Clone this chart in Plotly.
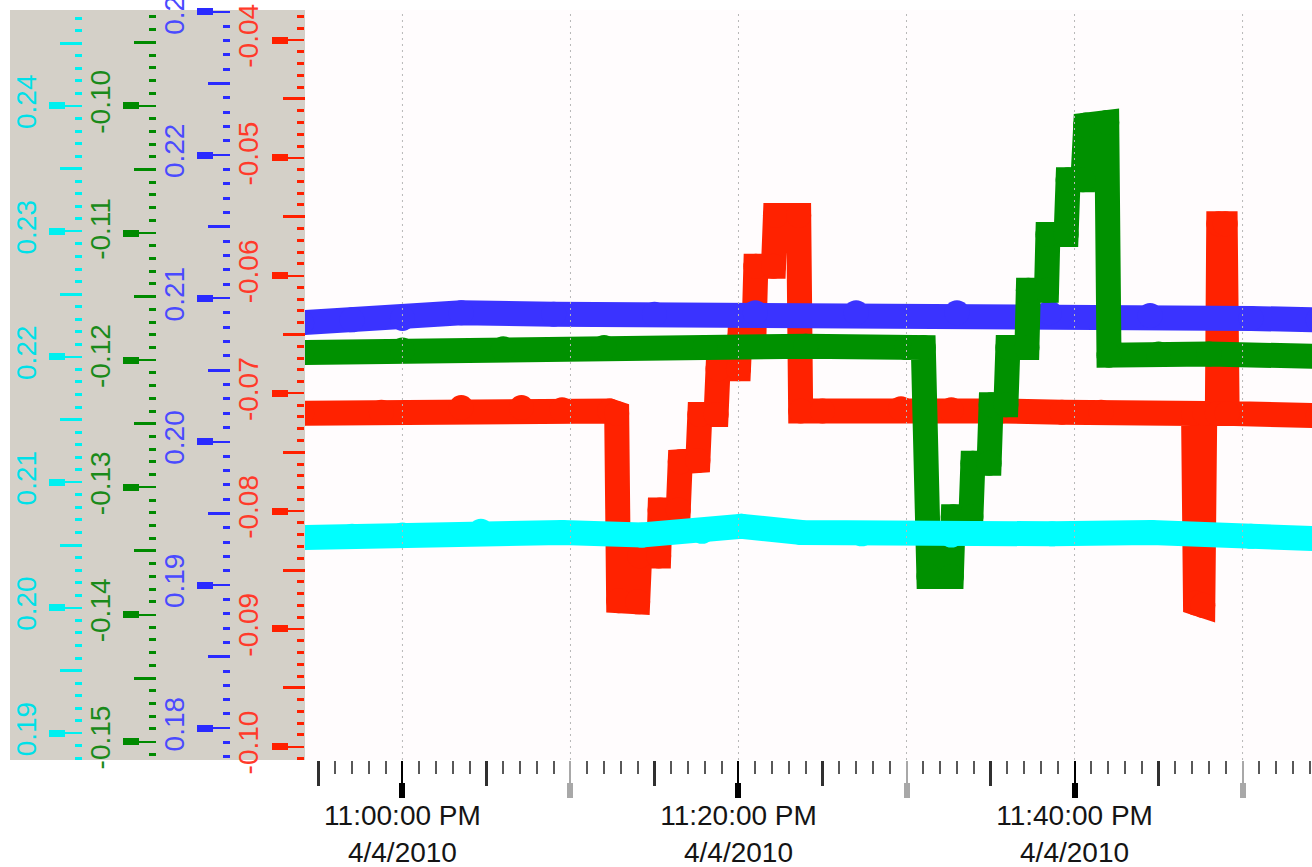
import pandas as pd
import plotly.graph_objects as go

DAY = "2010-04-04 "

# ---- measured series (clock time, value) ----
red_times = ["22:54:00", "22:58:45", "23:03:30", "23:07:05", "23:09:30", "23:12:20",
             "23:12:45", "23:12:52", "23:14:00", "23:14:07", "23:15:15", "23:15:20",
             "23:16:25", "23:16:32", "23:17:35", "23:17:42", "23:18:40", "23:18:47",
             "23:20:00", "23:20:05", "23:20:55", "23:21:02", "23:22:05", "23:22:12",
             "23:23:35", "23:23:42", "23:25:00", "23:29:40", "23:32:40", "23:35:40",
             "23:39:15", "23:41:35", "23:47:05", "23:47:12", "23:47:38", "23:47:45",
             "23:48:30", "23:48:35", "23:48:58", "23:49:05", "23:54:30"]
red_values = [-0.0717, -0.0716, -0.0712, -0.0712, -0.0714, -0.0715,
              -0.0717, -0.0876, -0.0877, -0.0838, -0.0838, -0.0799,
              -0.0799, -0.0758, -0.0757, -0.0718, -0.0718, -0.0679,
              -0.0679, -0.0652, -0.0652, -0.0592, -0.0592, -0.0549,
              -0.0549, -0.0715, -0.0715, -0.0713, -0.0714, -0.0715,
              -0.0716, -0.0716, -0.0717, -0.0878, -0.0880, -0.0717,
              -0.0717, -0.0556, -0.0556, -0.0717, -0.0719]

blue_times = ["22:54:00", "22:57:00", "23:00:00", "23:03:30", "23:09:00", "23:15:00",
              "23:21:00", "23:27:00", "23:33:00", "23:38:30", "23:44:30", "23:50:30",
              "23:54:30"]
blue_values = [0.2083, 0.2085, 0.2086, 0.2090, 0.2089, 0.2089,
               0.2090, 0.2090, 0.2090, 0.2090, 0.2088, 0.2086,
               0.2085]

green_times = ["22:54:00", "23:00:00", "23:06:00", "23:12:00", "23:18:00", "23:24:00",
               "23:30:00", "23:31:00", "23:31:20", "23:32:40", "23:32:47", "23:33:50",
               "23:33:57", "23:34:55", "23:35:02", "23:35:55", "23:36:02", "23:37:10",
               "23:37:15", "23:38:20", "23:38:25", "23:39:30", "23:39:37", "23:40:30",
               "23:40:40", "23:41:55", "23:42:03", "23:45:00", "23:48:00", "23:54:30"]
green_values = [-0.1194, -0.1192, -0.1191, -0.1190, -0.1190, -0.1189,
                -0.1190, -0.1190, -0.1370, -0.1370, -0.1323, -0.1323,
                -0.1281, -0.1281, -0.1235, -0.1235, -0.1190, -0.1190,
                -0.1145, -0.1145, -0.1101, -0.1101, -0.1058, -0.1058,
                -0.1015, -0.1013, -0.1196, -0.1195, -0.1195, -0.1197]

cyan_times = ["22:54:00", "22:57:00", "23:00:00", "23:04:40", "23:09:30", "23:14:15",
              "23:17:50", "23:20:10", "23:23:45", "23:27:20", "23:32:40", "23:38:40",
              "23:44:35", "23:50:30", "23:54:30"]
cyan_values = [0.2056, 0.2057, 0.2058, 0.2061, 0.2060, 0.2058,
               0.2061, 0.2065, 0.2060, 0.2059, 0.2058, 0.2059,
               0.2060, 0.2057, 0.2055]

# ---- axis ticks and labels ----
red_ticks = [-0.10, -0.09, -0.08, -0.07, -0.06, -0.05, -0.04]
blue_ticks = [0.18, 0.19, 0.20, 0.21, 0.22, 0.23]
green_ticks = [-0.15, -0.14, -0.13, -0.12, -0.11, -0.10]
cyan_ticks = [0.19, 0.20, 0.21, 0.22, 0.23, 0.24]

red_range = [-0.10113, -0.03745]
blue_range = [0.17779, 0.23012]
green_range = [-0.15144, -0.09245]
cyan_range = [0.18787, 0.24765]

time_labels = ["11:00:00 PM", "11:20:00 PM", "11:40:00 PM"]
date_labels = ["4/4/2010", "4/4/2010", "4/4/2010"]
x_range = ["22:54:12", "23:54:08"]

# ---- page geometry (pixels) ----
W, H = 1312, 867
PLOT_LEFT, PLOT_TOP, PLOT_BOTTOM = 305, 10, 760
PANEL_LEFT = 10
FONT = "Liberation Sans, Arial, sans-serif"
LABEL_SIZE = 28
LINE_W = 25


def fx(px):
    return px / W


def fy(py):
    return 1 - py / H


def ts(t):
    return DAY + t


x_dom = [fx(PLOT_LEFT), 1.0]
y_dom = [fy(PLOT_BOTTOM), fy(PLOT_TOP)]
xr = [ts(t) for t in x_range]

fig = go.Figure()

# data traces: red at the bottom, cyan on top
series = [
    ("red", red_times, red_values, "#ff2200", "y"),
    ("blue", blue_times, blue_values, "#3a33ff", "y4"),
    ("green", green_times, green_values, "#009100", "y7"),
    ("cyan", cyan_times, cyan_values, "#00ffff", "y10"),
]
for name, tt, vv, col, yax in series:
    fig.add_trace(go.Scatter(
        x=[ts(t) for t in tt], y=vv, name=name, mode="lines+markers",
        line=dict(color=col, width=LINE_W),
        marker=dict(color=col, size=LINE_W, line=dict(width=0)),
        xaxis="x", yaxis=yax, showlegend=False, hoverinfo="skip",
    ))

# value axes: (label axis id, thick axis id, mid axis id, range, root px, ticks, tick color, text color)
value_axes = [
    ("", "2", "3", red_range, 305, red_ticks, "#ff2000", "#ff3a2a"),
    ("4", "5", "6", blue_range, 230, blue_ticks, "#2a2aff", "#4a4aff"),
    ("7", "8", "9", green_range, 156, green_ticks, "#008a00", "#1a8a1a"),
    ("10", "11", "12", cyan_range, 82, cyan_ticks, "#00f0f0", "#00e0e8"),
]

layout_axes = {}
for lab, thick, mid, rng, root, ticks, tcol, txtcol in value_axes:
    lo, hi = rng
    mids = [round(t + 0.005, 3) for t in ticks + [ticks[0] - 0.01]]
    mids = [m for m in mids if lo < m < hi]
    minors = [round(k * 0.001, 3) for k in range(int(lo * 1000) - 1, int(hi * 1000) + 2)]
    minors = [m for m in minors if lo < m < hi and round(m * 1000) % 5 != 0]
    base = dict(range=rng, showgrid=False, zeroline=False, showline=False,
                tickmode="array", ticks="outside", tickcolor=tcol)
    lab_ax = dict(base, tickvals=ticks, ticktext=[f"{t:.2f}" for t in ticks],
                  ticklen=17, tickwidth=2, tickangle=-90,
                  tickfont=dict(family=FONT, size=LABEL_SIZE, color=txtcol),
                  ticklabelstandoff=18, ticklabeloverflow="allow",
                  minor=dict(tickmode="array", tickvals=minors, ticks="outside",
                             ticklen=7, tickwidth=3, tickcolor=tcol, showgrid=False))
    if lab == "":
        lab_ax.update(domain=y_dom, anchor="x", side="left")
    else:
        lab_ax.update(overlaying="y", anchor="free", position=fx(root), side="left")
    layout_axes["yaxis" + lab] = lab_ax
    layout_axes["yaxis" + thick] = dict(base, tickvals=ticks, ticklen=16, tickwidth=7,
                                        showticklabels=False, overlaying="y",
                                        anchor="free", position=fx(root - 17), side="left")
    layout_axes["yaxis" + mid] = dict(base, tickvals=mids, ticklen=22, tickwidth=3,
                                      showticklabels=False, overlaying="y",
                                      anchor="free", position=fx(root), side="left")
    for ax_id in (thick, mid):
        fig.add_trace(go.Scatter(x=[], y=[], xaxis="x", yaxis="y" + ax_id,
                                 showlegend=False, hoverinfo="skip"))

# time axes
t0 = pd.Timestamp(ts(x_range[0]))
t1 = pd.Timestamp(ts(x_range[1]))
all_min = pd.date_range(t0.ceil("min"), t1.floor("min"), freq="min")
ten_black = [t for t in all_min if t.minute % 20 == 0]
ten_grey = [t for t in all_min if t.minute % 20 == 10]
five_min = [t for t in all_min if t.minute % 10 == 5]
one_min = [t for t in all_min if t.minute % 5 != 0]
ten_all = [t for t in all_min if t.minute % 10 == 0]


def fmt(tlist):
    return [t.strftime("%Y-%m-%d %H:%M:%S") for t in tlist]


bottom = fy(PLOT_BOTTOM)
bar_pos = fy(PLOT_BOTTOM + 22)
xbase = dict(type="date", range=xr, showgrid=False, zeroline=False, showline=False,
             tickmode="array", ticks="outside", overlaying="x", anchor="free")
label_font = dict(family=FONT, size=LABEL_SIZE, color="#141414")
layout_axes["xaxis"] = dict(type="date", range=xr, domain=x_dom, anchor="y",
                            showgrid=False, zeroline=False, showline=False,
                            ticks="", showticklabels=False)
layout_axes["xaxis2"] = dict(xbase, position=bottom, tickvals=fmt(ten_black),
                             ticklen=37, tickwidth=2, tickcolor="#000000",
                             showticklabels=False)
layout_axes["xaxis3"] = dict(xbase, position=bar_pos, tickvals=fmt(ten_black),
                             ticklen=15, tickwidth=6, tickcolor="#000000",
                             showticklabels=False)
layout_axes["xaxis4"] = dict(xbase, position=bottom, tickvals=fmt(ten_grey),
                             ticklen=37, tickwidth=2, tickcolor="#a8a8a8",
                             showticklabels=False)
layout_axes["xaxis5"] = dict(xbase, position=bar_pos, tickvals=fmt(ten_grey),
                             ticklen=15, tickwidth=6, tickcolor="#a8a8a8",
                             showticklabels=False)
layout_axes["xaxis6"] = dict(xbase, position=bottom, tickvals=fmt(five_min),
                             ticklen=25, tickwidth=2.5, tickcolor="#303030",
                             showticklabels=False)
layout_axes["xaxis7"] = dict(xbase, position=bottom, tickvals=fmt(one_min),
                             ticklen=13, tickwidth=2, tickcolor="#585858",
                             showticklabels=False)
# label rows: clock time and date
layout_axes["xaxis8"] = dict(xbase, position=fy(796), tickvals=fmt(ten_black),
                             ticktext=time_labels, ticks="", tickfont=label_font)
layout_axes["xaxis9"] = dict(xbase, position=fy(833), tickvals=fmt(ten_black),
                             ticktext=date_labels, ticks="", tickfont=label_font)
for k in range(2, 10):
    fig.add_trace(go.Scatter(x=[], y=[], xaxis=f"x{k}", yaxis="y",
                             showlegend=False, hoverinfo="skip"))

shapes = [dict(type="rect", xref="paper", yref="paper",
               x0=fx(PANEL_LEFT), x1=fx(PLOT_LEFT), y0=fy(PLOT_BOTTOM), y1=fy(PLOT_TOP),
               fillcolor="#d4d0c8", line=dict(width=0), layer="below")]
for t in fmt(ten_all):
    shapes.append(dict(type="line", xref="x", yref="paper", x0=t, x1=t,
                       y0=fy(PLOT_BOTTOM), y1=fy(PLOT_TOP),
                       line=dict(color="#b8b8b8", width=1, dash="2px,4px"),
                       layer="above"))

fig.update_layout(
    width=W, height=H,
    autosize=False,
    margin=dict(l=0, r=0, t=0, b=0, pad=0, autoexpand=False),
    paper_bgcolor="#ffffff",
    plot_bgcolor="#fffcfd",
    showlegend=False,
    shapes=shapes,
    **layout_axes,
)

fig.write_html("out.html", config={"displayModeBar": False, "responsive": False})
